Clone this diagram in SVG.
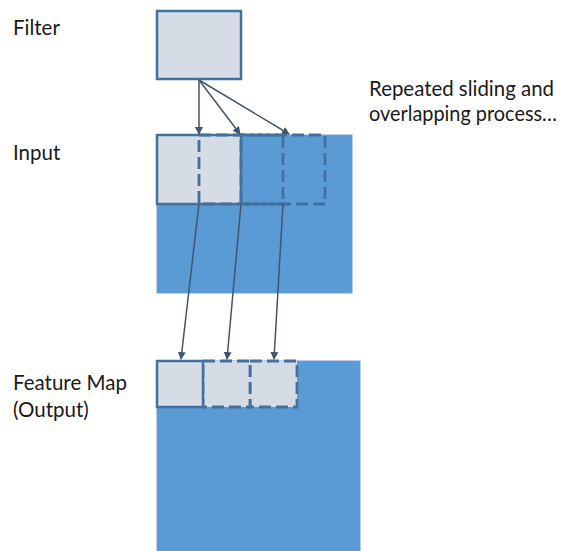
<svg xmlns="http://www.w3.org/2000/svg" width="564" height="551" viewBox="0 0 564 551">
<style>
.lbl{font-family:Lato,"Open Sans","Liberation Sans",sans-serif;font-size:20.5px;fill:#1a1a1a}
.big{fill:#5B9BD5;stroke:#6E9FCF;stroke-width:1}
.win{fill:#D6DCE5;stroke:#41719C;stroke-width:2.5}
.dash{fill:none;stroke:#41719C;stroke-width:2.8;stroke-dasharray:12,5}
.dwin{fill:#D6DCE5;stroke:#41719C;stroke-width:2.8;stroke-dasharray:12,5}
.arr{stroke:#44546A;stroke-width:1.5;fill:none;marker-end:url(#ah)}
</style>
<defs>
<marker id="ah" markerWidth="8" markerHeight="8" refX="7" refY="4" orient="auto" markerUnits="userSpaceOnUse">
<path d="M0,0 L8,4 L0,8 z" fill="#44546A"/>
</marker>
</defs>
<rect width="564" height="551" fill="#fff"/>
<g id="labels">
<text class="lbl" x="13" y="35">Filter</text>
<text class="lbl" x="13" y="160">Input</text>
<text class="lbl" x="13" y="390">Feature Map</text>
<text class="lbl" x="13" y="417">(Output)</text>
<text class="lbl" x="369" y="96" textLength="185" lengthAdjust="spacingAndGlyphs">Repeated sliding and</text>
<text class="lbl" x="369" y="121" textLength="188" lengthAdjust="spacingAndGlyphs">overlapping process…</text>
</g>
<g id="filter">
<rect class="win" x="157" y="11" width="84" height="68"/>
</g>
<g id="input">
<rect class="big" x="157" y="135" width="195" height="158"/>
<rect class="win" x="157" y="135" width="84" height="69"/>
<rect class="dash" x="199" y="135" width="84" height="69"/>
<rect class="dash" x="241" y="135" width="84" height="69"/>
</g>
<g id="output">
<rect class="big" x="157" y="361" width="203" height="195"/>
<rect class="dwin" x="250" y="361" width="47" height="46"/>
<rect class="dwin" x="203" y="361" width="47" height="46"/>
<rect class="win" x="157" y="361" width="46" height="46"/>
</g>
<g id="connectors">
<line class="arr" x1="199" y1="80" x2="199" y2="134"/>
<line class="arr" x1="199" y1="80" x2="240" y2="134"/>
<line class="arr" x1="199" y1="80" x2="289" y2="134"/>
<line class="arr" x1="199" y1="204" x2="181" y2="359"/>
<line class="arr" x1="241" y1="204" x2="227" y2="359"/>
<line class="arr" x1="283" y1="204" x2="274" y2="359"/>
</g>
</svg>
